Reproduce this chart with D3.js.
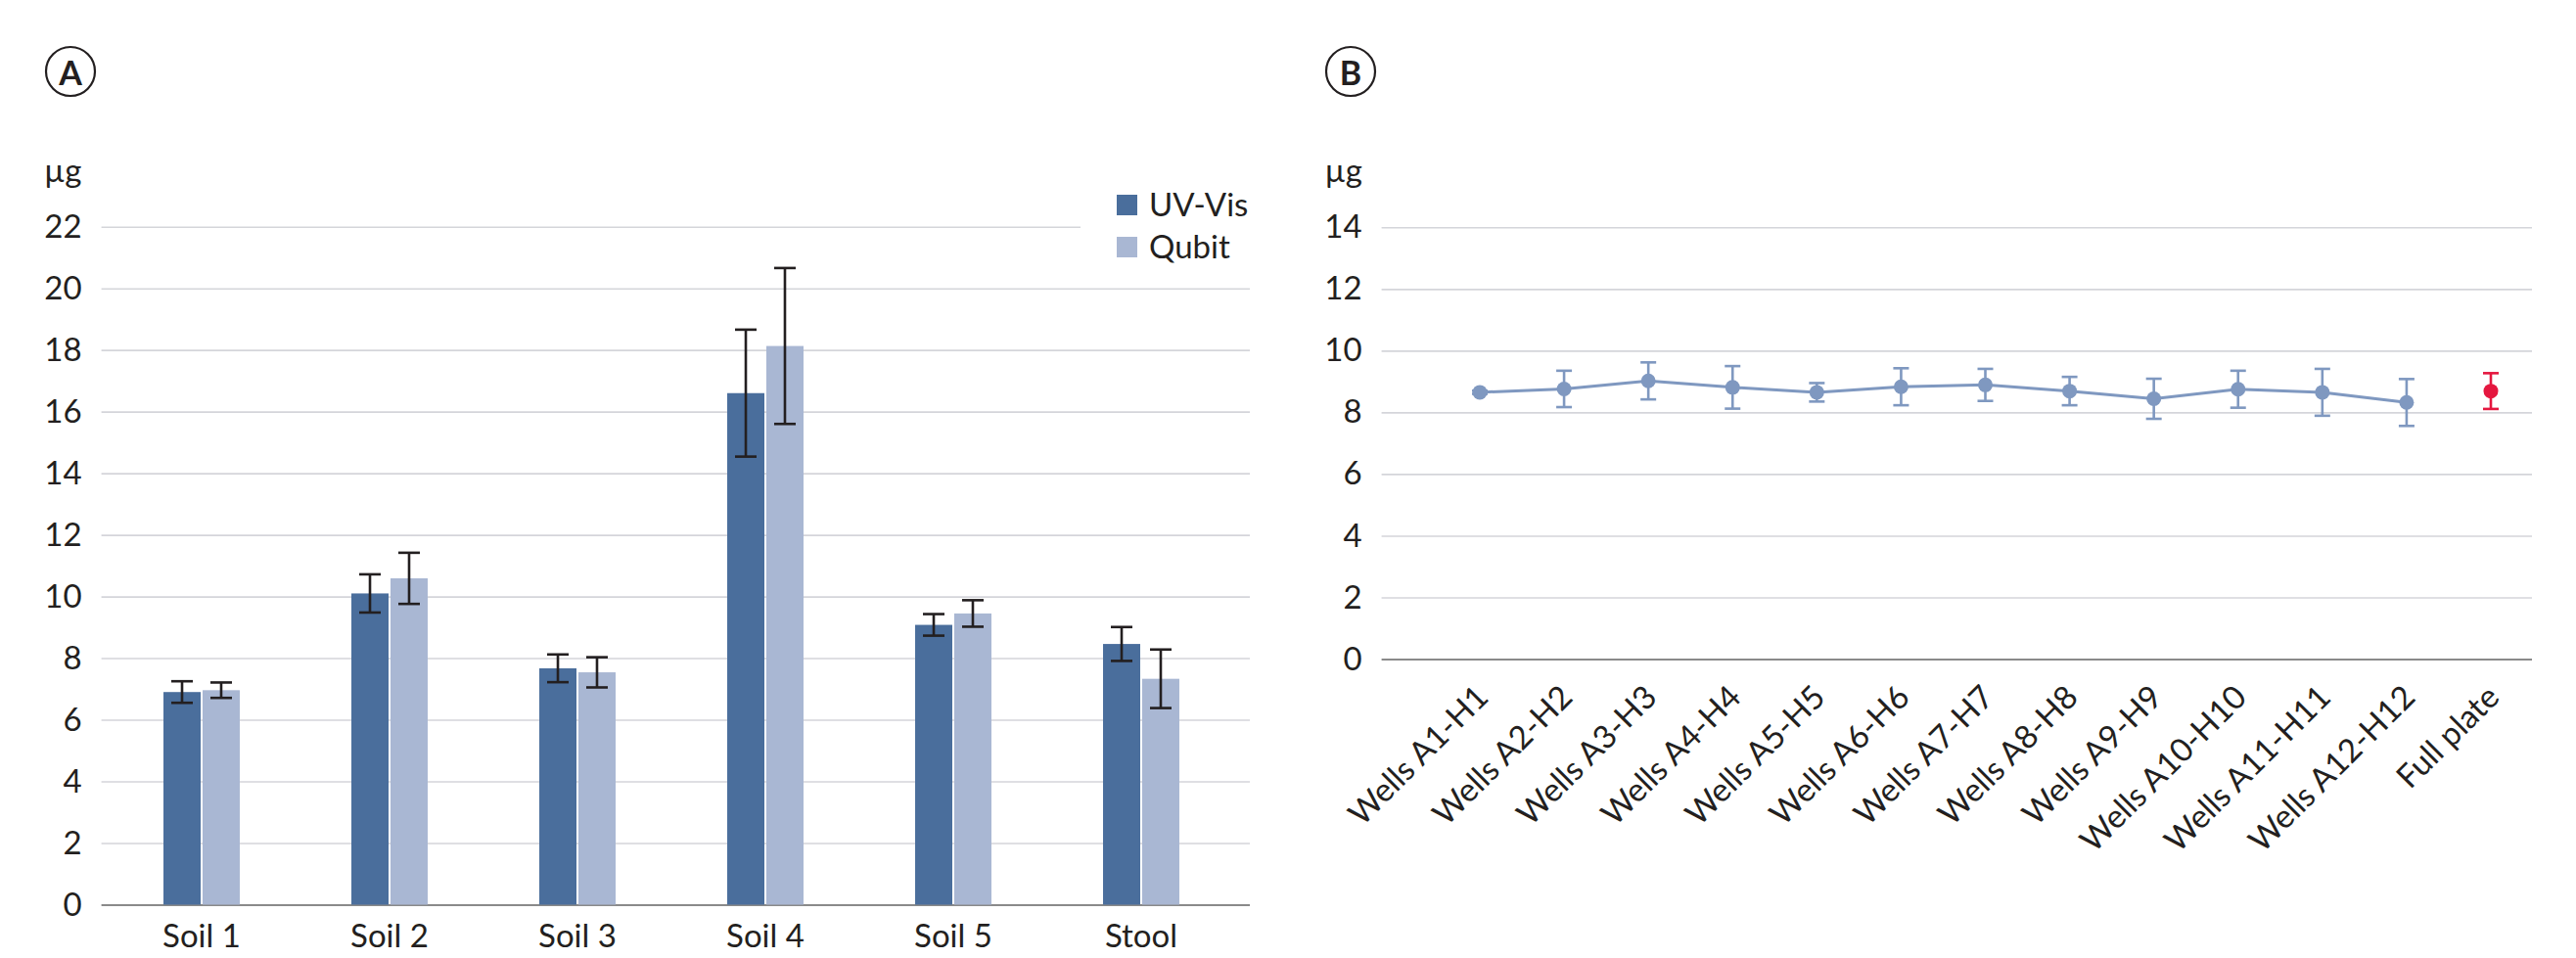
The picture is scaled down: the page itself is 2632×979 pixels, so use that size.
<!DOCTYPE html>
<html>
<head>
<meta charset="utf-8">
<script src="https://cdn.jsdelivr.net/npm/d3@7"></script>
<style>
  html, body { margin: 0; padding: 0; background: #fff; }
  svg { display: block; }
  text { font-family: Lato, "Open Sans", sans-serif; fill: #231f20; }
</style>
</head>
<body>
<svg id="chart" width="2632" height="979"></svg>
<script>
// ---------- Data: panel A ----------
const categoriesA = ["Soil 1", "Soil 2", "Soil 3", "Soil 4", "Soil 5", "Stool"];
const seriesA = ["UV-Vis", "Qubit"];
const uvVis = [6.9, 10.1, 7.67, 16.6, 9.08, 8.46];
const uvVisErr = [0.35, 0.62, 0.45, 2.06, 0.35, 0.55];
const qubit = [6.96, 10.59, 7.54, 18.13, 9.45, 7.33];
const qubitErr = [0.25, 0.83, 0.49, 2.53, 0.43, 0.95];
const ticksA = [0, 2, 4, 6, 8, 10, 12, 14, 16, 18, 20, 22];

// ---------- Data: panel B ----------
const categoriesB = ["Wells A1-H1", "Wells A2-H2", "Wells A3-H3", "Wells A4-H4", "Wells A5-H5",
  "Wells A6-H6", "Wells A7-H7", "Wells A8-H8", "Wells A9-H9", "Wells A10-H10",
  "Wells A11-H11", "Wells A12-H12", "Full plate"];
const wellsMean = [8.65, 8.76, 9.02, 8.81, 8.65, 8.83, 8.89, 8.69, 8.44, 8.75, 8.65, 8.32];
const wellsErr = [0.05, 0.59, 0.6, 0.69, 0.3, 0.6, 0.52, 0.46, 0.65, 0.6, 0.76, 0.76];
const fullPlateMean = [8.69];
const fullPlateErr = [0.58];
const ticksB = [0, 2, 4, 6, 8, 10, 12, 14];

// ---------- Styles ----------
const DARK = "#4a6e9c", LIGHT = "#a9b7d3", LINE = "#7f98c0", RED = "#e5173f";
const GRID = "#d4d5da", AXIS = "#8a8a8a", INK = "#231f20";
const FS = 33;

const svg = d3.select("#chart");

function panelLabel(cx, cy, letter) {
  svg.append("circle").attr("cx", cx).attr("cy", cy).attr("r", 25)
    .attr("fill", "none").attr("stroke", INK).attr("stroke-width", 2.2);
  svg.append("text").attr("x", cx).attr("y", cy).attr("text-anchor", "middle")
    .attr("dominant-baseline", "central").attr("font-size", 34).attr("font-weight", 700)
    .text(letter);
}

function yAxisGrid(g, y, ticks, x0, x1, unitX) {
  const ax = d3.axisLeft(y).tickValues(ticks).tickSize(-(x1 - x0)).tickPadding(20)
    .tickFormat(d3.format("d"));
  g.attr("transform", `translate(${x0},0)`).call(ax);
  g.select(".domain").remove();
  g.selectAll(".tick line").attr("stroke", d => d === 0 ? AXIS : GRID)
    .attr("stroke-width", d => d === 0 ? 2.2 : 1.6);
  g.selectAll(".tick text").attr("font-size", FS).attr("fill", INK)
    .attr("font-family", "Lato, sans-serif");
  svg.append("text").attr("x", unitX).attr("y", 186).attr("text-anchor", "end")
    .attr("font-size", FS).text("µg");
}

// ================= Panel A =================
panelLabel(72, 73, "A");
const yA = d3.scaleLinear().domain([0, 22]).range([924.5, 231.7]);
const xA = d3.scaleBand().domain(categoriesA).range([110, 1262])
  .paddingInner(0.594).paddingOuter(0.297);
const xSub = d3.scaleBand().domain(seriesA).range([0, xA.bandwidth()]).paddingInner(0.05);

const gA = svg.append("g");
yAxisGrid(gA.append("g"), yA, ticksA, 103.6, 1277, 83.5);

// legend background (interrupts gridline)
svg.append("rect").attr("x", 1104).attr("y", 186).attr("width", 176).attr("height", 90).attr("fill", "#fff");

const dataA = categoriesA.map((c, i) => ({
  cat: c,
  vals: [
    { s: "UV-Vis", v: uvVis[i], e: uvVisErr[i], color: DARK },
    { s: "Qubit", v: qubit[i], e: qubitErr[i], color: LIGHT }
  ]
}));

const groups = svg.append("g").selectAll("g").data(dataA).join("g")
  .attr("transform", d => `translate(${xA(d.cat)},0)`);
groups.selectAll("rect").data(d => d.vals).join("rect")
  .attr("x", d => xSub(d.s)).attr("width", xSub.bandwidth())
  .attr("y", d => yA(d.v)).attr("height", d => yA(0) - yA(d.v))
  .attr("fill", d => d.color);

const errG = groups.selectAll("g.err").data(d => d.vals).join("g").attr("class", "err")
  .attr("transform", d => `translate(${xSub(d.s) + xSub.bandwidth() / 2},0)`)
  .attr("stroke", INK).attr("stroke-width", 2.6);
errG.append("line").attr("y1", d => yA(d.v + d.e)).attr("y2", d => yA(d.v - d.e));
errG.append("line").attr("x1", -11).attr("x2", 11).attr("y1", d => yA(d.v + d.e)).attr("y2", d => yA(d.v + d.e));
errG.append("line").attr("x1", -11).attr("x2", 11).attr("y1", d => yA(d.v - d.e)).attr("y2", d => yA(d.v - d.e));

// x axis labels A
const xAxA = svg.append("g").attr("transform", `translate(0,${yA(0)})`)
  .call(d3.axisBottom(xA).tickSize(0).tickPadding(20));
xAxA.select(".domain").remove();
xAxA.selectAll(".tick text").attr("font-size", FS).attr("fill", INK).attr("font-family", "Lato, sans-serif");

// legend
const legend = svg.append("g");
seriesA.forEach((s, i) => {
  legend.append("rect").attr("x", 1141).attr("y", 199 + i * 43).attr("width", 21).attr("height", 21)
    .attr("fill", i === 0 ? DARK : LIGHT);
  legend.append("text").attr("x", 1174).attr("y", 221 + i * 43).attr("font-size", FS).text(s);
});

// ================= Panel B =================
panelLabel(1380, 73, "B");
const yB = d3.scaleLinear().domain([0, 14]).range([673.5, 232.3]);
const xB = d3.scalePoint().domain(categoriesB).range([1512, 2545]);

const gB = svg.append("g");
yAxisGrid(gB.append("g"), yB, ticksB, 1411.6, 2587, 1392);

const xAxB = svg.append("g").attr("transform", `translate(0,${yB(0)})`)
  .call(d3.axisBottom(xB).tickSize(0));
xAxB.select(".domain").remove();
xAxB.selectAll(".tick text")
  .attr("font-size", FS).attr("fill", INK).attr("font-family", "Lato, sans-serif")
  .attr("text-anchor", "end").attr("dy", null).attr("y", 0)
  .attr("transform", "translate(10,41) rotate(-45)");

const wells = wellsMean.map((v, i) => ({ c: categoriesB[i], v, e: wellsErr[i], color: LINE }));
const full = fullPlateMean.map((v, i) => ({ c: categoriesB[12], v, e: fullPlateErr[i], color: RED }));

function errorBars(data) {
  const g = svg.append("g").selectAll("g").data(data).join("g")
    .attr("transform", d => `translate(${xB(d.c)},0)`)
    .attr("stroke", d => d.color).attr("stroke-width", 2.6);
  g.append("line").attr("y1", d => yB(d.v + d.e)).attr("y2", d => yB(d.v - d.e));
  g.append("line").attr("x1", -8).attr("x2", 8).attr("y1", d => yB(d.v + d.e)).attr("y2", d => yB(d.v + d.e));
  g.append("line").attr("x1", -8).attr("x2", 8).attr("y1", d => yB(d.v - d.e)).attr("y2", d => yB(d.v - d.e));
}
errorBars(wells);
errorBars(full);

svg.append("path").datum(wells)
  .attr("fill", "none").attr("stroke", LINE).attr("stroke-width", 3)
  .attr("d", d3.line().x(d => xB(d.c)).y(d => yB(d.v)));

svg.append("g").selectAll("circle").data(wells.concat(full)).join("circle")
  .attr("cx", d => xB(d.c)).attr("cy", d => yB(d.v)).attr("r", 7.5)
  .attr("fill", d => d.color);
</script>
</body>
</html>
